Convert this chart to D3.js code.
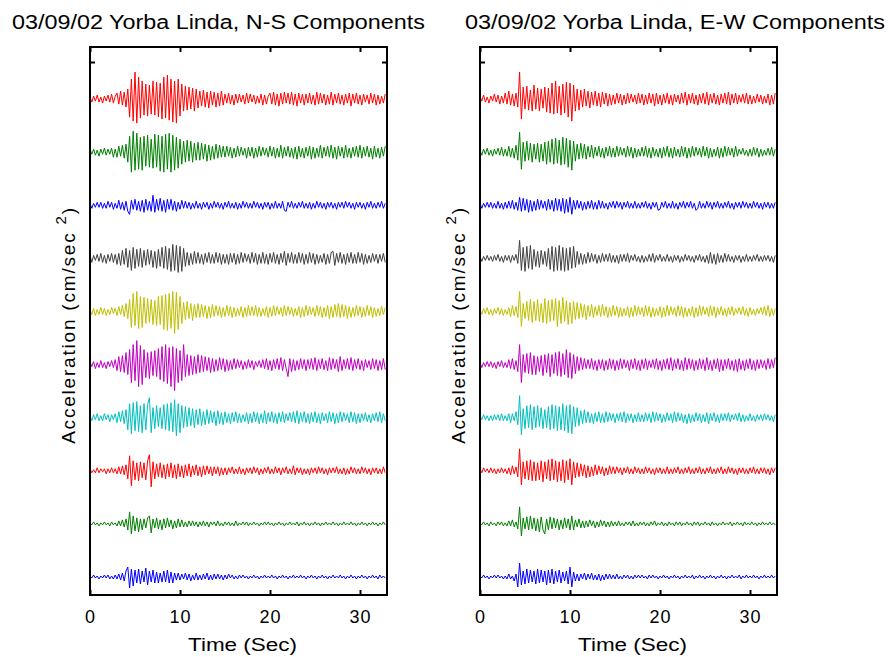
<!DOCTYPE html>
<html>
<head>
<meta charset="utf-8">
<script src="https://cdnjs.cloudflare.com/ajax/libs/d3/7.8.5/d3.min.js"></script>
<style>
  body { margin: 0; background: #fff; }
  text { font-family: "Liberation Sans", Arial, Helvetica, sans-serif; fill: #000; }
</style>
</head>
<body>
<div id="chart"></div>
<script>
// sample interval of every trace (sec); each row below is 3 sec = 15 samples
const DT = 0.2;
const xTicks = [0, 10, 20, 30];
const traceColors = ["#ff0000", "#008000", "#0000ff", "#404040", "#bfbf00",
  "#bf00bf", "#00bfbf", "#ff0000", "#008000", "#0000ff"];

// ---- N-S components (top to bottom), acceleration
const ns1 = [
  2,-3,3,-2,4,-3,2,-4,3,-2,4,-3,5,-4,3,
  6,-5,8,-6,7,-8,10,-18,20,-22,27,-24,22,-19,18,
  -16,15,-17,14,-15,18,-16,17,-18,16,-20,22,-19,24,-21,
  20,-23,18,-24,20,-17,15,-12,13,-11,12,-10,11,-12,10,
  -9,8,-7,9,-8,7,-9,8,-6,7,-8,6,-7,8,-6,
  5,-4,6,-5,4,-6,5,-4,5,-3,4,-5,6,-4,5,
  -3,4,-5,3,-4,5,-6,4,-5,3,6,-5,7,-6,5,
  -7,6,-5,7,-4,6,-5,7,-6,5,-7,6,-4,5,-6,
  5,-4,6,-5,4,-6,7,-5,6,-4,5,-6,4,-5,7,
  -6,5,-4,6,-5,4,-6,5,-4,6,-7,5,-4,6,-5,
  4,-6,5,-3,4,-5,6,-4,5,-6,4,-5,3,-4,5];
const ns2 = [
  3,-2,3,-3,2,-4,3,-2,4,-3,3,-2,4,-5,3,
  -5,6,-4,7,-6,8,-10,16,-20,21,-18,19,-17,15,-18,
  16,-14,17,-15,13,-16,18,-15,17,-19,16,-20,18,-17,19,
  -20,17,-18,15,-16,13,-12,11,-10,12,-9,11,-10,9,-8,
  10,-8,9,-7,8,-9,7,-8,6,-7,8,-6,7,-5,6,
  -5,6,-4,5,-6,4,-5,6,-4,5,-3,4,-6,5,-4,
  5,-6,4,-5,6,-4,5,-3,4,-5,6,-4,5,-6,4,
  -5,7,-6,5,-4,6,-5,4,-6,5,-7,6,-5,4,-6,
  5,-4,6,-7,5,-6,4,-5,7,-6,5,-4,6,-5,7,
  -6,5,-7,6,-4,5,-6,7,-5,4,-6,5,-4,6,-5,
  7,-6,5,-4,6,-5,4,-7,6,-5,4,-6,5,-4,6];
const ns3 = [
  2,-3,2,-2,3,-2,3,-3,2,-3,4,-2,3,-4,2,
  -3,5,-4,3,-5,4,-6,-9,5,-4,6,-5,4,-6,5,
  -7,6,-5,4,-6,10,-7,6,-5,7,-6,5,-7,6,-4,
  6,-5,4,-6,3,-4,5,-3,4,-3,3,-4,2,-3,4,
  -3,2,-4,3,-2,3,-4,2,-3,4,-2,3,-3,2,-4,
  3,-2,4,-3,2,-3,3,-4,2,-3,4,-2,3,-3,2,
  -3,4,-2,3,-3,2,-4,3,-2,3,-4,2,-3,4,-3,
  2,-3,4,-5,-6,3,-2,4,-3,2,-3,3,-2,4,-3,
  2,-3,3,-4,2,-3,4,-2,3,-3,2,-4,3,-2,3,
  -3,2,-4,3,-2,3,-3,4,-2,3,-3,2,-4,3,-2,
  3,-3,2,-4,3,-2,4,-3,2,-3,3,-2,4,-3,2];
const ns4 = [
  3,-4,3,-2,4,-3,5,-4,3,-5,4,-3,5,-4,4,
  -6,5,-7,8,-6,10,-9,8,-12,11,-10,9,-8,10,-9,
  8,-7,9,-6,8,-9,7,-10,9,-8,11,-10,12,-11,10,
  -13,14,-12,13,-14,12,-13,10,-8,6,-7,5,-6,7,-5,
  6,-5,4,-6,5,-4,6,-5,4,-5,6,-4,5,-6,4,
  -5,4,-6,5,-4,5,-6,4,-5,6,-4,5,-3,4,-5,
  6,-4,5,-6,4,-5,6,-5,4,-6,5,-4,6,-5,4,
  -6,5,-4,7,-7,5,-4,6,-5,4,-5,6,-4,5,-6,
  4,-5,6,-4,5,-6,4,-5,3,-4,5,-6,4,-5,6,
  7,-7,5,-4,6,-5,4,-6,5,-4,6,-5,4,-5,6,
  -4,5,-6,4,-5,3,-4,5,-3,4,-5,4,-3,5,-4];
const ns5 = [
  2,-3,3,-4,2,-3,4,-3,3,-4,2,-3,4,-2,3,
  -4,5,-3,6,-5,8,-7,12,-16,18,-14,20,-17,15,-16,
  14,-12,13,-11,12,-13,11,-14,15,-13,16,-18,17,-19,18,
  -17,20,-22,19,-18,15,-12,9,-8,10,-7,8,-9,7,-6,
  8,-6,7,-5,6,-7,5,-6,7,-5,6,-4,5,-6,4,
  -5,6,-4,5,-6,4,-5,3,-4,5,-6,4,-5,6,-4,
  5,-4,6,-5,4,-5,3,-4,5,-6,4,-5,6,-4,5,
  -3,4,-5,6,-4,5,-3,4,-5,3,-4,5,-6,4,-5,
  6,-4,5,-3,4,-5,6,-4,5,-6,4,-5,6,-7,5,
  -6,7,-5,8,-6,7,-5,6,-7,5,-6,4,-5,6,-4,
  5,-6,4,-5,6,-4,5,-6,4,-5,3,-4,5,-3,4];
const ns6 = [
  3,-2,3,-4,2,-3,4,-3,2,-4,3,-2,4,-3,5,
  -6,8,-7,9,-8,12,-10,15,-18,20,-16,24,-22,19,-20,
  15,-13,12,-14,13,-11,14,-12,16,-15,18,-17,20,-19,17,
  -22,18,-26,16,-18,14,-16,20,-12,10,-11,9,-10,8,-9,
  10,-8,9,-7,8,-6,7,-8,6,-7,5,-6,7,-5,6,
  -7,5,-6,4,-5,6,-4,5,-3,4,-5,3,-4,5,-3,
  4,-5,3,-2,4,-3,5,-4,6,-5,4,-6,5,-4,6,
  -5,7,-6,5,-4,-12,6,-7,5,-6,4,-5,6,-4,5,
  -6,5,-4,6,-5,7,-6,5,-4,6,-5,4,-6,7,-5,
  6,-4,5,-7,8,-6,5,-4,6,-5,7,-6,5,-4,6,
  -5,4,-6,5,-3,4,-5,6,-4,5,-6,4,-5,6,-5];
const ns7 = [
  2,-3,3,-2,4,-3,2,-3,4,-2,3,-4,3,-2,4,
  -5,6,-4,7,-6,8,-12,14,-16,15,-13,16,-14,12,-15,
  14,-12,13,20,-15,10,-11,12,-9,10,-11,13,-12,14,-13,
  15,-14,18,-18,14,-15,12,-10,11,-9,10,-8,9,-10,8,
  -7,9,-8,6,-7,8,-6,7,-5,6,-8,7,-6,5,-7,
  6,-5,4,-6,5,-4,6,-5,4,-5,3,-4,5,-6,4,
  -5,6,-4,5,-6,4,-5,7,-6,5,-4,6,-5,4,-6,
  5,-4,6,-5,4,-3,5,-4,6,-5,7,-6,5,-4,6,
  -5,4,-6,5,-4,6,-5,4,-6,5,-3,4,-5,6,-4,
  5,-6,4,-5,6,-4,5,-3,4,-5,6,-4,5,-6,4,
  -5,4,-3,5,-4,3,-5,4,-3,5,-4,6,-5,4,-3];
const ns8 = [
  2,-2,1,-2,3,-2,2,-1,2,-3,2,-2,3,-2,2,
  -3,4,-3,5,-4,6,-8,15,-15,10,-9,8,-10,9,-7,
  8,-9,10,16,-16,9,-8,7,-6,8,-7,6,-8,7,-6,
  8,-7,6,-8,7,-6,5,-7,6,-5,7,-6,5,-4,6,
  -5,4,-6,5,-4,5,-3,4,-5,4,-3,4,-5,3,-4,
  3,-4,3,-2,4,-3,2,-3,4,-3,2,-4,3,-2,3,
  -3,4,-2,3,-4,2,-3,3,-2,4,-3,2,-3,4,-2,
  3,-4,3,-2,4,-3,2,-3,5,-4,3,-2,3,-4,2,
  -3,2,-4,3,-2,3,-3,4,-2,3,-3,2,-4,3,-2,
  3,-2,4,-3,2,-3,3,-4,2,-3,4,-2,3,-3,2,
  -3,4,-2,3,-3,2,-4,3,-2,3,-3,2,-3,4,-2];
const ns9 = [
  1,-1,2,-1,1,-2,1,-1,2,-1,1,-2,2,-1,1,
  -2,3,-2,4,-3,5,-6,12,-10,8,-7,6,-8,5,-6,
  5,-4,6,8,-9,5,-4,6,-5,4,-6,5,-4,6,-3,
  4,-5,3,-4,5,-3,4,-3,2,-3,3,-2,3,-2,2,
  -3,2,-2,3,-2,2,-3,2,-1,2,-2,3,-2,1,-2,
  2,-1,2,-2,1,-2,3,-2,1,-1,2,-1,2,-2,1,
  -1,2,-1,1,-2,1,-1,2,-1,2,-1,1,-2,1,-1,
  2,-1,1,-2,1,-1,2,-1,1,-1,2,-2,1,-1,2,
  -1,1,-2,1,-1,2,-1,1,-2,1,-1,2,-1,1,-1,
  2,-1,1,-2,1,-1,2,-1,1,-1,2,-1,1,-2,1,
  -1,2,-1,1,-2,1,-1,2,-1,1,-2,1,-1,2,-1];
const ns10 = [
  1,-1,2,-1,1,-2,1,-1,2,-1,2,-2,1,-2,2,
  -2,3,-3,4,-4,6,10,-11,8,-9,7,-6,8,-7,6,
  -5,9,-8,6,-5,7,-6,5,-6,4,-5,6,-5,7,-6,
  5,-6,4,-3,4,-3,3,-2,4,-3,3,-4,2,-3,4,
  -3,2,-3,3,-2,4,-3,2,-3,3,-2,3,-2,2,-3,
  2,-2,3,-1,2,-2,1,-2,2,-1,2,-1,1,-2,1,
  -1,2,-1,1,-2,1,-1,2,-1,1,-1,2,-1,1,-2,
  1,-1,2,-1,1,-2,1,-1,2,-1,1,-1,2,-1,1,
  -2,1,-1,2,-1,1,-2,1,-1,2,-1,1,-2,1,-1,
  2,-1,1,-1,2,-1,1,-2,1,-1,2,-1,1,-2,1,
  -1,2,-1,1,-2,1,-1,2,-1,1,-2,2,-1,1,-1];

// ---- E-W components (top to bottom)
const ew1 = [
  3,-2,4,-3,2,-4,3,-2,5,-3,4,-5,3,-4,6,
  -5,8,-6,5,-7,6,-8,27,-20,12,-10,13,-11,9,-12,
  14,-10,11,-12,10,-9,12,-13,11,-14,16,-15,18,-14,13,
  -16,15,-14,17,-18,16,-22,14,-12,10,-11,9,-8,10,-7,
  8,-9,7,-6,8,-7,6,-8,7,-5,6,-7,5,-6,4,
  -5,6,-4,5,-6,4,-5,6,-4,5,-3,4,-5,6,-4,
  5,-6,4,-5,6,-4,5,-7,6,-5,4,-6,5,-4,6,
  -5,4,-6,5,-3,4,-5,6,-4,7,-6,5,-4,6,-5,
  4,-6,5,-4,6,-5,7,-6,5,-4,6,-5,4,-6,5,
  -4,6,-5,7,-6,5,-4,6,-5,4,-3,5,-4,6,-5,
  4,-5,3,-4,5,-3,4,-5,3,-4,5,-6,4,-5,6];
const ew2 = [
  2,-3,3,-2,4,-3,2,-4,3,-2,4,-3,5,-4,3,
  -4,6,-5,4,-6,7,-8,20,-17,10,-9,11,-8,9,-10,
  8,-7,9,-10,8,-9,10,-12,11,-10,13,-12,14,-11,12,
  -13,15,-12,14,-15,12,-18,11,-9,8,-7,9,-6,8,-7,
  6,-5,7,-6,5,-4,6,-5,4,-6,5,-4,6,-5,4,
  -5,6,-4,5,-3,4,-5,6,-4,5,-6,4,-5,3,-4,
  5,-4,6,-5,4,-6,5,-4,3,-5,4,-6,5,-4,6,
  -5,4,-6,5,-4,3,-5,6,-4,5,-6,4,-5,6,-4,
  5,-3,4,-5,6,-4,5,-6,4,-5,3,-4,5,-6,4,
  -5,6,-4,5,-3,4,-5,6,-4,3,-2,4,-3,2,-4,
  3,-4,5,-3,4,-5,3,-4,2,-3,4,-3,5,-4,3];
const ew3 = [
  2,-3,2,-2,3,-2,3,-3,2,-3,4,-3,2,-4,3,
  -3,4,-3,5,-4,3,-5,8,-6,7,-5,6,-7,5,-6,
  4,-5,6,-4,5,-3,4,-5,6,-4,5,-6,7,-5,6,
  -6,7,-8,6,-7,8,-9,5,-4,5,-3,4,-5,3,-4,
  4,-3,5,-4,3,-4,5,-3,4,-3,2,-4,3,-2,4,
  -3,4,-2,3,-4,3,-2,4,-3,2,-3,4,-3,2,-3,
  3,-2,4,-3,2,-4,3,-2,3,-5,-4,3,-2,4,-3,
  2,-3,4,-3,2,-4,3,-2,4,-3,3,-2,4,-3,2,
  -5,-3,4,-3,2,-3,4,-2,3,-4,3,-2,4,-3,2,
  -3,3,-2,4,-3,2,-4,3,-2,3,-3,4,-2,3,-3,
  2,-3,4,-2,3,-3,2,-4,3,-2,3,-3,2,-3,3];
const ew4 = [
  2,-3,2,-2,3,-2,2,-3,3,-2,4,-3,2,-4,3,
  -2,3,-4,3,-2,4,-5,18,-12,11,-13,12,-10,13,-11,
  9,-8,7,-9,8,-6,7,-8,10,-11,12,-13,11,-12,13,
  -12,11,-13,10,-12,11,-10,12,-9,7,-6,5,-6,4,-5,
  6,-4,5,-3,4,-5,3,-4,5,-3,4,-3,5,-4,3,
  -4,3,-5,4,-3,4,-3,5,-4,3,-2,4,-3,2,-4,
  3,-4,2,-3,4,-3,5,-4,3,-2,4,-3,2,-3,4,
  -3,2,-4,3,-2,3,-4,2,-3,4,-2,3,-3,2,-4,
  3,-2,4,-3,2,-4,3,-5,6,-5,4,-6,5,-4,3,
  -4,5,-3,4,-3,2,-4,3,-2,3,-4,2,-3,4,-3,
  2,-3,3,-2,4,-3,2,-3,3,-2,3,-3,2,-4,3];
const ew5 = [
  2,-3,3,-2,4,-3,2,-4,3,-2,4,-3,3,-4,2,
  -3,4,-5,6,-4,5,-6,20,-15,8,-7,10,-9,12,-11,
  10,-9,12,-10,8,-11,13,-12,11,-10,12,-9,13,-15,11,
  -12,14,-10,11,-13,9,-12,10,-8,9,-7,8,-6,7,-8,
  6,-5,7,-6,5,-4,6,-5,7,-4,5,-6,4,-5,6,
  -4,5,-6,4,-5,3,-4,5,-6,4,-5,6,-4,5,-3,
  4,-5,6,-4,5,-6,4,-5,3,-4,5,-6,4,-5,6,
  -4,5,-3,4,-5,6,-4,5,-6,4,-5,3,-4,5,-6,
  4,-5,6,-4,5,-3,4,-5,6,-4,5,-6,4,-3,5,
  -4,3,-5,4,-3,5,-4,3,-2,4,-3,5,-4,3,-5,
  4,-3,2,-4,3,-2,4,-3,5,-4,6,-5,3,-4,3];
const ew6 = [
  2,-3,2,-2,3,-2,3,-3,2,-4,3,-2,4,-3,2,
  -3,5,-4,6,-5,4,-7,20,-18,10,-8,11,-9,12,-10,
  9,-10,8,-7,9,-11,10,-8,11,-12,10,-9,12,-11,13,
  -12,11,-10,15,-13,12,-14,10,-9,8,-6,7,-5,6,-4,
  5,-4,6,-5,4,-6,5,-4,5,-6,4,-5,6,-4,5,
  -6,4,-5,6,-4,5,-3,4,-6,5,-4,6,-5,4,-6,
  5,-4,6,-5,4,-3,5,-4,6,-5,4,-6,5,-4,6,
  -5,7,-6,5,-4,6,-5,4,-6,7,-5,6,-4,5,-6,
  4,-5,6,-4,5,-6,7,-5,4,-6,5,-4,6,-7,5,
  -6,5,-4,6,-5,4,-6,5,-7,6,-5,4,-6,5,-4,
  6,-5,4,-6,5,-4,5,-3,4,-5,6,-4,5,-3,7];
const ew7 = [
  2,-2,3,-2,2,-3,2,-3,3,-2,3,-3,4,-3,2,
  -3,4,-5,4,-3,6,-7,22,-17,9,-11,12,-10,13,-12,
  11,-10,12,-9,10,-11,8,-10,11,-12,13,-11,12,-13,11,
  -12,14,-13,12,-15,13,-16,11,-9,10,-8,7,-6,8,-5,
  6,-5,4,-6,5,-4,6,-5,4,-5,6,-4,5,-3,4,
  -5,4,-3,5,-4,6,-5,4,-3,4,-5,3,-4,5,-4,
  3,-4,5,-3,4,-5,6,-4,5,-3,4,-5,3,-4,5,
  -3,4,-5,6,-4,5,-3,4,-5,3,-6,4,-5,3,-4,
  5,-3,4,-5,3,-4,5,-6,4,-3,5,-4,3,-5,4,
  -3,4,-3,5,-4,3,-2,4,-3,5,-4,3,-4,2,-3,
  4,-3,2,-4,3,-2,3,-3,4,-2,3,-3,2,-4,3];
const ew8 = [
  2,-2,3,-1,2,-2,3,-2,2,-3,2,-2,3,-2,2,
  -3,3,-4,5,-3,4,-6,22,-14,9,-8,10,-9,11,-10,
  9,-10,8,-9,10,-11,9,-8,11,-10,12,-9,10,-11,9,
  -10,11,-12,10,-9,12,-14,9,-7,8,-6,7,-5,6,-7,
  5,-6,4,-5,6,-4,5,-3,4,-5,3,-4,5,-3,4,
  -3,4,-2,3,-4,3,-2,4,-3,2,-3,4,-2,3,-3,
  2,-3,4,-2,3,-3,2,-4,3,-2,3,-3,2,-3,4,
  -3,2,-3,3,-2,4,-3,2,-3,3,-2,4,-3,2,-3,
  3,-2,4,-3,2,-3,3,-2,4,-3,2,-3,3,-2,4,
  -3,2,-3,4,-2,3,-3,2,-4,3,-2,3,-3,2,-3,
  3,-2,4,-3,2,-3,3,-2,3,-3,2,-4,3,-2,3];
const ew9 = [
  1,-1,2,-1,1,-2,2,-1,1,-2,2,-1,2,-2,1,
  -2,3,-2,4,-3,2,-5,17,-12,6,-5,7,-6,8,-5,
  6,-7,5,-8,7,-6,-10,5,-6,7,-5,6,-4,5,-6,
  4,-5,6,-4,5,-6,8,-6,4,-3,5,-4,3,-4,3,
  -3,4,-2,3,-4,2,-3,4,-2,3,-3,2,-3,3,-2,
  2,-2,3,-2,1,-2,2,-1,2,-2,3,-2,1,-2,2,
  -1,2,-2,1,-2,2,-1,3,-2,1,-1,2,-2,1,-2,
  2,-1,1,-2,2,-1,2,-2,1,-1,2,-1,1,-2,2,
  -1,2,-2,1,-1,2,-1,1,-2,2,-1,1,-2,1,-1,
  2,-1,1,-1,2,-2,1,-1,2,-1,1,-2,2,-1,1,
  -1,2,-1,1,-2,1,-1,2,-1,1,-1,2,-1,1,-1];
const ew10 = [
  1,-1,2,-1,1,-2,1,-1,2,-1,2,-1,1,-2,1,
  -2,3,-2,1,-4,3,-10,14,-8,6,-7,8,-6,7,-5,
  6,-7,8,-6,7,-5,6,-8,7,-6,8,-7,6,-5,7,
  -6,5,-4,6,-7,10,-10,5,-4,3,-4,3,-2,4,-3,
  3,-2,4,-3,2,-3,3,-4,2,-3,3,-2,3,-2,2,
  -2,3,-2,1,-2,2,-1,2,-2,1,-2,2,-1,2,-1,
  2,-1,1,-2,2,-1,2,-1,1,-2,1,-1,2,-1,1,
  -2,1,-1,2,-1,1,-2,1,-1,2,-1,1,-1,2,-2,
  1,-1,2,-1,1,-2,1,-1,2,-1,1,-2,1,-1,2,
  -1,1,-2,1,-1,2,-1,1,-1,2,-2,1,-1,2,-1,
  1,-1,2,-1,1,-2,1,-1,2,-1,1,-1,2,-1,1];

const nsTraces = [ns1, ns2, ns3, ns4, ns5, ns6, ns7, ns8, ns9, ns10];
const ewTraces = [ew1, ew2, ew3, ew4, ew5, ew6, ew7, ew8, ew9, ew10];

const W = 893, H = 657;
const plotTop = 47, plotBottom = 595, plotWidth = 297;
const spacing = 53.1; // vertical gap between stacked traces
const font = '"Liberation Sans", Arial, Helvetica, sans-serif';

const svg = d3.select("#chart").append("svg")
  .attr("width", W).attr("height", H);

const x = d3.scaleLinear().domain([0, 33]).range([0, plotWidth]);
const y = d3.scaleLinear().domain([-18, 530]).range([plotBottom, plotTop]);

function drawPanel(left, title, titleX, titleLen, traces, id) {
  const g = svg.append("g").attr("transform", `translate(${left},0)`);

  // title
  svg.append("text")
    .attr("x", titleX).attr("y", 29)
    .attr("textLength", titleLen).attr("lengthAdjust", "spacingAndGlyphs")
    .style("font-size", "20px")
    .text(title);

  g.append("clipPath").attr("id", "clip" + id)
    .append("rect")
    .attr("x", 0).attr("y", plotTop)
    .attr("width", plotWidth).attr("height", plotBottom - plotTop);

  const n = traces.length;
  traces.forEach((tr, k) => {
    const base = (n - 1 - k) * spacing;
    const line = d3.line()
      .x((v, i) => x(i * DT))
      .y((v) => y(base + v));
    g.append("path")
      .datum(tr)
      .attr("clip-path", `url(#clip${id})`)
      .attr("fill", "none")
      .attr("stroke", traceColors[k])
      .attr("stroke-width", 1)
      .attr("stroke-linejoin", "round")
      .attr("d", line);
  });

  // axes: MATLAB-style inward ticks on every side
  const yTick = [515];
  const xb = g.append("g").attr("transform", `translate(0,${plotBottom})`)
    .call(d3.axisBottom(x).tickValues(xTicks).tickSize(-5).tickPadding(15)
      .tickFormat(d3.format("d")));
  const xt = g.append("g").attr("transform", `translate(0,${plotTop})`)
    .call(d3.axisTop(x).tickValues(xTicks).tickSize(-5).tickFormat(""));
  const yl = g.append("g")
    .call(d3.axisLeft(y).tickValues(yTick).tickSize(-5).tickFormat(""));
  const yr = g.append("g").attr("transform", `translate(${plotWidth},0)`)
    .call(d3.axisRight(y).tickValues(yTick).tickSize(-5).tickFormat(""));
  [xb, xt, yl, yr].forEach((a) => {
    a.select(".domain").remove();
    a.selectAll("line").attr("stroke", "#000").attr("stroke-width", 2);
  });
  xb.selectAll("text")
    .style("font-family", font).style("font-size", "18px")
    .attr("letter-spacing", "1px").attr("fill", "#000");

  g.append("rect")
    .attr("x", 0).attr("y", plotTop)
    .attr("width", plotWidth).attr("height", plotBottom - plotTop)
    .attr("fill", "none").attr("stroke", "#000").attr("stroke-width", 2);

  g.append("text")
    .attr("x", plotWidth / 2 + 4).attr("y", 651)
    .attr("text-anchor", "middle")
    .attr("textLength", 109).attr("lengthAdjust", "spacingAndGlyphs")
    .style("font-size", "18px")
    .text("Time (Sec)");

  // y label, stretched to the wide spacing of the reference
  const yl2 = g.append("text")
    .attr("transform", `translate(-15,${(plotTop + plotBottom) / 2 + 4}) rotate(-90)`)
    .attr("text-anchor", "middle")
    .attr("letter-spacing", "1.8px")
    .style("font-size", "19px");
  yl2.append("tspan").text("Acceleration (cm/sec ");
  yl2.append("tspan").attr("dy", -9).style("font-size", "15px").text("2");
  yl2.append("tspan").attr("dy", 9).text(")");
}

drawPanel(90, "03/09/02 Yorba Linda, N-S Components", 12, 413, nsTraces, "ns");
drawPanel(480, "03/09/02 Yorba Linda, E-W Components", 465, 420, ewTraces, "ew");
</script>
</body>
</html>
